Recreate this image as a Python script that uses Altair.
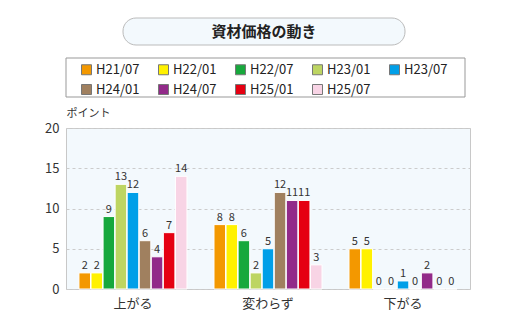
import altair as alt
import pandas as pd

categories = ["上がる", "変わらず", "下がる"]
series = ["H21/07", "H22/01", "H22/07", "H23/01", "H23/07", "H24/01", "H24/07", "H25/01", "H25/07"]
colors = ["#f39800", "#fff100", "#17a83c", "#bdd562", "#009fe8", "#a0805f", "#922a89", "#e50012", "#f8d4e5"]
v_up = [2, 2, 9, 13, 12, 6, 4, 7, 14]
v_same = [8, 8, 6, 2, 5, 12, 11, 11, 3]
v_down = [5, 5, 0, 0, 1, 0, 2, 0, 0]

rows = []
for cat, vals in zip(categories, [v_up, v_same, v_down]):
    for s, v in zip(series, vals):
        rows.append({"cat": cat, "series": s, "value": v})
df = pd.DataFrame(rows)

FONT = "Noto Sans CJK JP"

x = alt.X("cat:N", sort=categories, title=None,
          scale=alt.Scale(paddingInner=0.2, paddingOuter=0.096),
          axis=alt.Axis(labelAngle=0, labelFontSize=13, labelColor="#333", labelPadding=8,
                        ticks=False, domain=False, labelFont=FONT))
xo = alt.XOffset("series:N", sort=series, scale=alt.Scale(paddingInner=0.04))
y = alt.Y("value:Q", scale=alt.Scale(domain=[0, 20]),
          axis=alt.Axis(values=[0, 5, 10, 15, 20], title="ポイント", titleAngle=0, titleX=0, titleY=-10,
                        titleAlign="left", titleBaseline="bottom", titleFontSize=11, titleFontWeight="normal",
                        titleColor="#333", titleFont=FONT,
                        labelFontSize=13, labelColor="#333", labelPadding=7, labelFont=FONT,
                        ticks=False, domain=False, gridDash=[3, 3], gridColor="#cccccc"))
color = alt.Color("series:N", sort=series, scale=alt.Scale(domain=series, range=colors),
                  legend=alt.Legend(title=None, orient="none", legendX=14, legendY=-65, columns=5,
                                    direction="horizontal",
                                    symbolType="square", symbolSize=100, symbolStrokeColor="#777",
                                    symbolStrokeWidth=1, labelFontSize=13, labelColor="#222", labelFont=FONT,
                                    labelOffset=3, columnPadding=16, rowPadding=5, gridAlign="all",
                                    padding=0, symbolOpacity=1))

bars = alt.Chart(df).mark_bar(stroke="white", strokeWidth=1).encode(x=x, xOffset=xo, y=y, color=color)
labels = alt.Chart(df).mark_text(dy=-2, baseline="bottom", fontSize=11, color="#333", font=FONT).encode(
    x=alt.X("cat:N", sort=categories), xOffset=alt.XOffset("series:N", sort=series),
    y="value:Q", text="value:Q")

one = alt.Data(values=[{"a": 1}])
title_box = alt.Chart(one).mark_rect(fill="#f3f9fd", stroke="#bbbbbb", strokeWidth=1, cornerRadius=13).encode(
    x=alt.value(57), x2=alt.value(339), y=alt.value(-110), y2=alt.value(-83))
title_text = alt.Chart(one).mark_text(text="資材価格の動き", fontSize=15, fontWeight="bold", color="#222",
                                      font=FONT, align="center", baseline="middle").encode(
    x=alt.value(198), y=alt.value(-96))
legend_box = alt.Chart(one).mark_rect(fill="white", stroke="#999999", strokeWidth=1).encode(
    x=alt.value(0), x2=alt.value(399), y=alt.value(-70), y2=alt.value(-31))

chart = alt.layer(title_box, title_text, legend_box, bars, labels).properties(
    width=404, height=161,
    autosize=alt.AutoSizeParams(type="none"),
    padding={"left": 66, "top": 128, "right": 50, "bottom": 38},
    background="white",
).configure_view(fill="#f3f9fd", stroke="#c8c8c8")

chart.save("out.html", embed_options={"renderer": "svg", "actions": False})
